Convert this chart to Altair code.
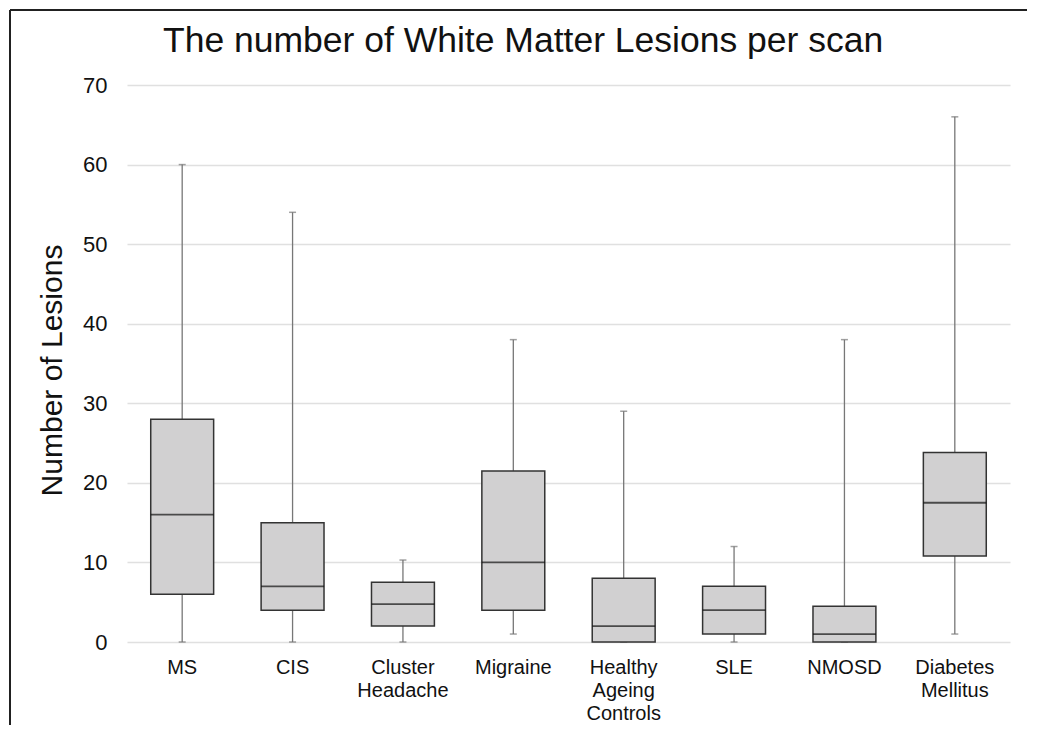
import altair as alt
import pandas as pd

categories = ["MS", "CIS", "Cluster Headache", "Migraine", "Healthy Ageing Controls",
              "SLE", "NMOSD", "Diabetes Mellitus"]
mins    = [0, 0, 0, 1, 0, 0, 0, 1]
q1s     = [6, 4, 2, 4, 0, 1, 0, 10.8]
medians = [16, 7, 4.75, 10, 2, 4, 1, 17.5]
q3s     = [28, 15, 7.5, 21.5, 8, 7, 4.5, 23.8]
maxs    = [60, 54, 10.3, 38, 29, 12, 38, 66]

df = pd.DataFrame({"cat": categories, "min": mins, "q1": q1s, "median": medians,
                   "q3": q3s, "max": maxs})

FONT = "Liberation Sans"

x = alt.X("cat:N", sort=categories, title=None,
          scale=alt.Scale(paddingInner=0.0, paddingOuter=0.0),
          axis=alt.Axis(labelAngle=0, labelExpr="split(datum.label, ' ')",
                        labelFontSize=20, labelLineHeight=23, labelPadding=15,
                        ticks=False, domain=False, grid=False, labelColor="#111",
                        labelFont=FONT))
yscale = alt.Scale(domain=[0, 70], nice=False)
y_axis = alt.Axis(values=[0, 10, 20, 30, 40, 50, 60, 70], title="Number of Lesions",
                  titleFontSize=30, titleFontWeight="normal", titleFont=FONT,
                  titleColor="#111", titlePadding=15, titleY=285,
                  labelFontSize=22, labelFont=FONT, labelColor="#111",
                  labelPadding=20, ticks=False, domain=False, grid=True,
                  gridColor="#e0e0e0", gridWidth=1.5)

base = alt.Chart(df)

frame_top = base.mark_rule(color="#222", strokeWidth=1.5).encode(
    x=alt.value(-117), x2=alt.value(900), y=alt.value(-75))
frame_left = base.mark_rule(color="#222", strokeWidth=1.5).encode(
    x=alt.value(-117), y=alt.value(-75), y2=alt.value(640))

grid = base.mark_rule(opacity=0).encode(
    y=alt.Y("min:Q", scale=yscale, axis=y_axis))

lower = base.mark_rule(color="#777", strokeWidth=1.3).encode(
    x=x, y=alt.Y("min:Q", scale=yscale), y2="q1:Q")
upper = base.mark_rule(color="#777", strokeWidth=1.3).encode(
    x=x, y=alt.Y("q3:Q", scale=yscale), y2="max:Q")
cap_top = base.mark_tick(color="#777", size=7, thickness=1.5).encode(
    x=x, y=alt.Y("max:Q", scale=yscale))
cap_bot = base.mark_tick(color="#777", size=7, thickness=1.5).encode(
    x=x, y=alt.Y("min:Q", scale=yscale))
box = base.mark_bar(fill="#d1d0d1", stroke="#333", strokeWidth=1.5,
                    width=alt.RelativeBandSize(0.57)).encode(
    x=x, y=alt.Y("q1:Q", scale=yscale), y2="q3:Q")
med = base.mark_tick(color="#111", size=63, thickness=1.8).encode(
    x=x, y=alt.Y("median:Q", scale=yscale))

chart = alt.layer(frame_top, frame_left, grid, lower, upper, cap_top, cap_bot,
                  box, med).properties(
    width=883, height=557,
    autosize=alt.AutoSizeParams(type="none"),
    padding={"left": 119, "top": 77, "right": 24, "bottom": 86},
    title=alt.TitleParams("The number of White Matter Lesions per scan",
                          fontSize=35.5, font=FONT, fontWeight="normal", color="#111",
                          anchor="start", frame="group", dx=36, baseline="alphabetic",
                          offset=-78),
).configure_view(stroke=None)

chart.save("out.html", embed_options={"renderer": "svg", "actions": False})
